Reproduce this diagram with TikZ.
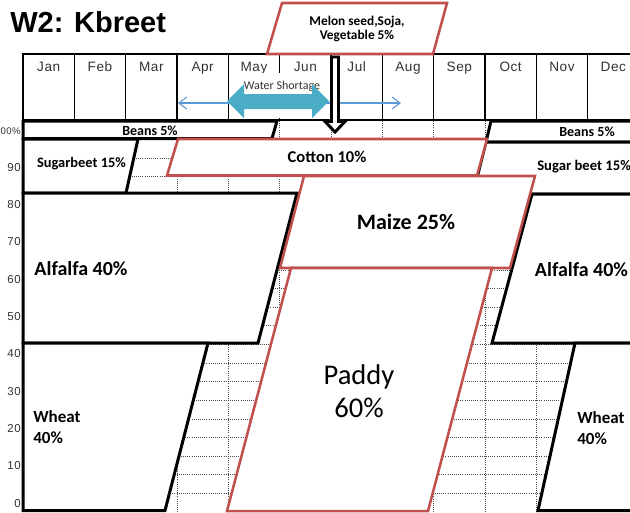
\documentclass[tikz,border=0pt]{standalone}
\usepackage{fontspec}
\setmainfont{Carlito}
\newfontfamily\arialf{Liberation Sans}
\newfontfamily\monthf{Liberation Sans}[LetterSpace=4]
\newfontfamily\axisf{Liberation Sans}[LetterSpace=5]
\usetikzlibrary{arrows.meta}
\definecolor{cropred}{RGB}{192,80,77}
\definecolor{tealarrow}{RGB}{75,172,198}
\definecolor{thinblue}{RGB}{91,155,213}
\definecolor{axisgray}{RGB}{50,50,50}
\begin{document}
\begin{tikzpicture}[x=0.75pt,y=-0.75pt,
  blackbox/.style={draw=black,line width=2.25pt,fill=white,line join=miter},
  redbox/.style={draw=cropred,line width=1.9pt,fill=white,line join=miter},
  gridline/.style={densely dotted,line width=0.6pt,draw=gray!60!black},
  hdr/.style={line width=1.1pt,draw=black},
  monthlbl/.style={font=\monthf\fontsize{10.2}{12}\selectfont,text=axisgray,anchor=base,inner sep=0pt},
  axislbl/.style={font=\axisf\fontsize{8.6}{10}\selectfont,text=axisgray,anchor=base east,inner sep=0pt},
  croplbl/.style={inner sep=0pt,text=black}
]
\useasboundingbox (0,0) rectangle (630,512);
\clip (0,0) rectangle (630,512);

% grid
\foreach \k in {1,...,11} \draw[gridline] ({23+51.33*\k},121) -- ({23+51.33*\k},512);
\foreach \k in {1,...,20} \draw[gridline] (23,{121+18.62*\k}) -- (640,{121+18.62*\k});

% header
\draw[hdr] (23,120) -- (23,54) -- (640,54);
\foreach \k in {1,...,12} \draw[hdr] ({23+51.33*\k},54) -- ({23+51.33*\k},120);
\draw[line width=1.6pt] (22,120) -- (640,120);
\foreach \m [count=\i from 0] in {Jan,Feb,Mar,Apr,May,Jun,Jul,Aug,Sep,Oct,Nov,Dec}
  \node[monthlbl] (m\i) at ({23+51.33*(\i+0.5)},71.5) {\m};

% axis labels
\foreach \v in {0,10,20,30,40,50,60,70,80,90}
  \node[axislbl] (y\v) at (21,{507-3.733*\v}) {\v};
\node[axislbl,font=\axisf\fontsize{7.2}{8}\selectfont] (y100) at (21,134) {00\%};

% left crops
\draw[blackbox] (23,121) -- (277,121) -- (272,138.5) -- (23,138.5) -- cycle;
\draw[blackbox] (23,139) -- (138,139) -- (126,193) -- (23,193) -- cycle;
\draw[blackbox] (23,193) -- (297,193) -- (258,343) -- (23,343) -- cycle;
\draw[blackbox] (23,343) -- (208,343) -- (165,510.5) -- (23,510.5) -- cycle;

% right crops
\draw[blackbox] (491,121) -- (645,121) -- (645,142) -- (486,142) -- cycle;
\draw[blackbox] (486,142) -- (645,142) -- (645,194) -- (473,194) -- cycle;
\draw[blackbox] (532,194) -- (645,194) -- (645,343) -- (492,343) -- cycle;
\draw[blackbox] (575,343) -- (645,343) -- (645,510.5) -- (538,510.5) -- cycle;

% red crops
\draw[redbox] (178,139) -- (487,139) -- (477,175.5) -- (167,175.5) -- cycle;
\draw[redbox] (304,176) -- (535,176) -- (510,268) -- (280,268) -- cycle;
\draw[redbox] (291,268) -- (492,268) -- (428,511) -- (227,511) -- cycle;
\draw[redbox] (282,3) -- (447,3) -- (433,54) -- (267,54) -- cycle;

% crop labels
\node[croplbl,font=\bfseries\fontsize{10.5}{12}\selectfont] (beansL) at (150,130.5) {Beans 5\%};
\node[croplbl,font=\bfseries\fontsize{10.8}{12}\selectfont] (sugarL) at (81.5,164) {Sugarbeet 15\%};
\node[croplbl,font=\bfseries\fontsize{15}{18}\selectfont] (alfL) at (81,268.5) {Alfalfa 40\%};
\node[croplbl,font=\bfseries\fontsize{12.75}{15.75}\selectfont,align=left,anchor=west] (wheatL) at (33,427.5) {Wheat\\40\%};
\node[croplbl,font=\bfseries\fontsize{10.5}{12}\selectfont] (beansR) at (587,132) {Beans 5\%};
\node[croplbl,font=\bfseries\fontsize{11}{13}\selectfont,anchor=west] (sugarR) at (537,167) {Sugar beet 15\%};
\node[croplbl,font=\bfseries\fontsize{15}{18}\selectfont] (alfR) at (581.5,270) {Alfalfa 40\%};
\node[croplbl,font=\bfseries\fontsize{12.75}{15.75}\selectfont,align=left,anchor=west] (wheatR) at (577,428.5) {Wheat\\40\%};
\node[croplbl,font=\bfseries\fontsize{12.4}{14}\selectfont] (cotton) at (327,157) {Cotton 10\%};
\node[croplbl,font=\bfseries\fontsize{16.5}{19}\selectfont] (maize) at (406,222) {Maize 25\%};
\node[croplbl,font=\fontsize{21.4}{24.75}\selectfont,align=center] (paddy) at (359,391.5) {Paddy\\60\%};
\node[croplbl,font=\bfseries\fontsize{10}{10.5}\selectfont,align=center] (melon) at (357,29) {Melon seed,Soja,\\Vegetable 5\%};

% water shortage
\node[fill=white,inner xsep=3pt,inner ysep=1.5pt,anchor=north,text height=11pt,text depth=19.5pt,
  font=\fontsize{9}{10}\selectfont,text=axisgray] (ws) at (282,73) {Water Shortage};
\coordinate (wsL) at (178,103);
\coordinate (wsR) at (401,103);
\draw[thinblue,line width=0.8pt,{Straight Barb[length=6pt,width=9pt]}-{Straight Barb[length=6pt,width=9pt]}] (wsL) -- (wsR);
\fill[tealarrow] (227,101) -- (244,84) -- (244,94) -- (312,94) -- (312,84) -- (329,101)
  -- (312,118) -- (312,109) -- (244,109) -- (244,118) -- cycle;

% down arrow
\draw[line width=2.2pt,fill=white,line join=miter] (331.5,57) -- (338.5,57) -- (338.5,121.5) -- (345,121.5)
  -- (335,132) -- (325,121.5) -- (331.5,121.5) -- cycle;

% title
\node[font=\arialf\bfseries\fontsize{21.75}{24}\selectfont,anchor=base west,inner sep=0pt] (title) at (10,32) {W2: Kbreet};
\end{tikzpicture}
\end{document}
